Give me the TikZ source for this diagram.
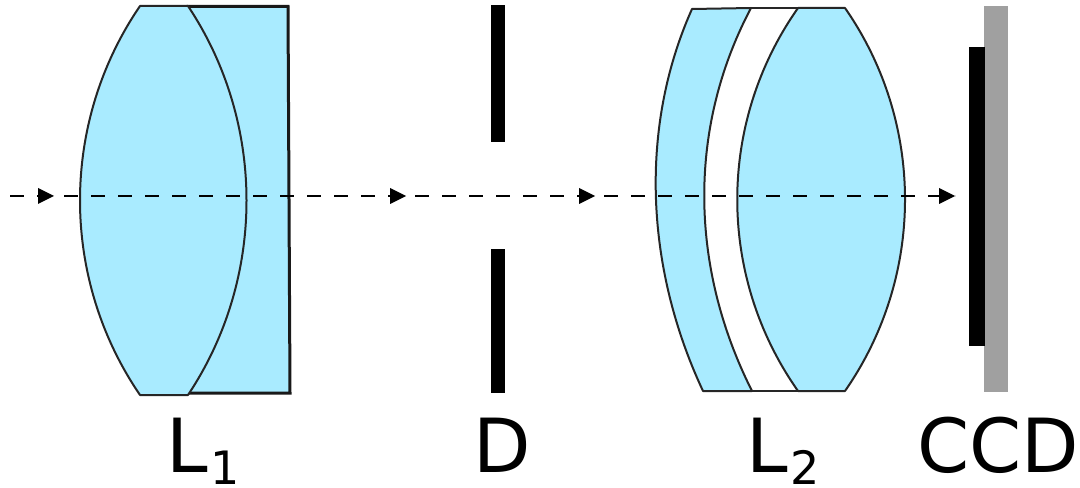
\documentclass[tikz,border=0pt]{standalone}
\usepackage{fontspec}
\setmainfont{DejaVu Sans}
\usetikzlibrary{arrows.meta}
\definecolor{lensblue}{HTML}{A9EBFF}
\definecolor{sensorgray}{HTML}{A0A0A0}
\tikzset{
  lens/.style={fill=lensblue,draw=black!85,line width=2pt*0.75,line join=round},
  edge/.style={draw=black!85,line width=2pt*0.75},
  heavy/.style={draw=black!90,line width=3pt*0.75,line cap=rect},
  stopbar/.style={fill=black,draw=none},
  ray/.style={draw=black,line width=1.5pt*0.75,dash pattern=on 10.5pt off 9.75pt},
  tip/.style={fill=black,draw=none},
  lab/.style={inner sep=0pt,anchor=base west,font=\fontsize{56}{60}\selectfont},
}
\newcommand{\subdigit}[1]{\kern2pt\raisebox{-9pt}{\fontsize{34.5}{36}\selectfont #1}}
\begin{document}
\begin{tikzpicture}[x=0.75pt,y=-0.75pt]
\useasboundingbox (0,0) rectangle (1080,488);
% L1 cemented doublet
\path[fill=lensblue] (188,6) -- (288,6) -- (290,393) -- (188,394) -- cycle;
\draw[heavy] (188,6.5) -- (288,6.5) -- (290,393) -- (188,393);
\draw[lens] (140,6) .. controls (60,123) and (60,278) .. (140,395) -- (188,395)
  .. controls (266,278) and (266,123) .. (188,6) -- cycle;
% L2 air-spaced doublet
\draw[lens] (692,9) .. controls (640,125) and (644,265) .. (703,391) -- (752,391)
  .. controls (689,266) and (688,127) .. (751,8) -- cycle;
\draw[lens] (798,8) .. controls (717,123) and (717,276) .. (798,391) -- (845,391)
  .. controls (925,276) and (925,123) .. (845,8) -- cycle;
\draw[edge] (751,8) -- (798,8);
\draw[edge] (752,391) -- (798,391);
% diaphragm
\path[stopbar] (490.5,5) rectangle (505,142);
\path[stopbar] (490.5,249) rectangle (505,393);
% sensor
\path[fill=sensorgray] (984,6) rectangle (1008,392);
\path[stopbar] (969,47) rectangle (985,346);
% optical axis
\coordinate (start) at (10,196);
\coordinate (endp) at (955,196);
\draw[ray] (start) -- (endp);
\foreach \x/\n in {38/a,390/b,579/c,939/d}{
  \coordinate (\n) at (\x,196);
  \path[tip] (\n) ++(0,-8) -- ++(16,8) -- ++(-16,8) -- cycle;
}
% labels
\node[lab] (l1) at (166,472) {L\subdigit{1}};
\node[lab] (dd) at (473,472) {D};
\node[lab] (l2) at (746,472) {L\subdigit{2}};
\node[lab] (ccd) at (917,472) {CCD};
\end{tikzpicture}
\end{document}
